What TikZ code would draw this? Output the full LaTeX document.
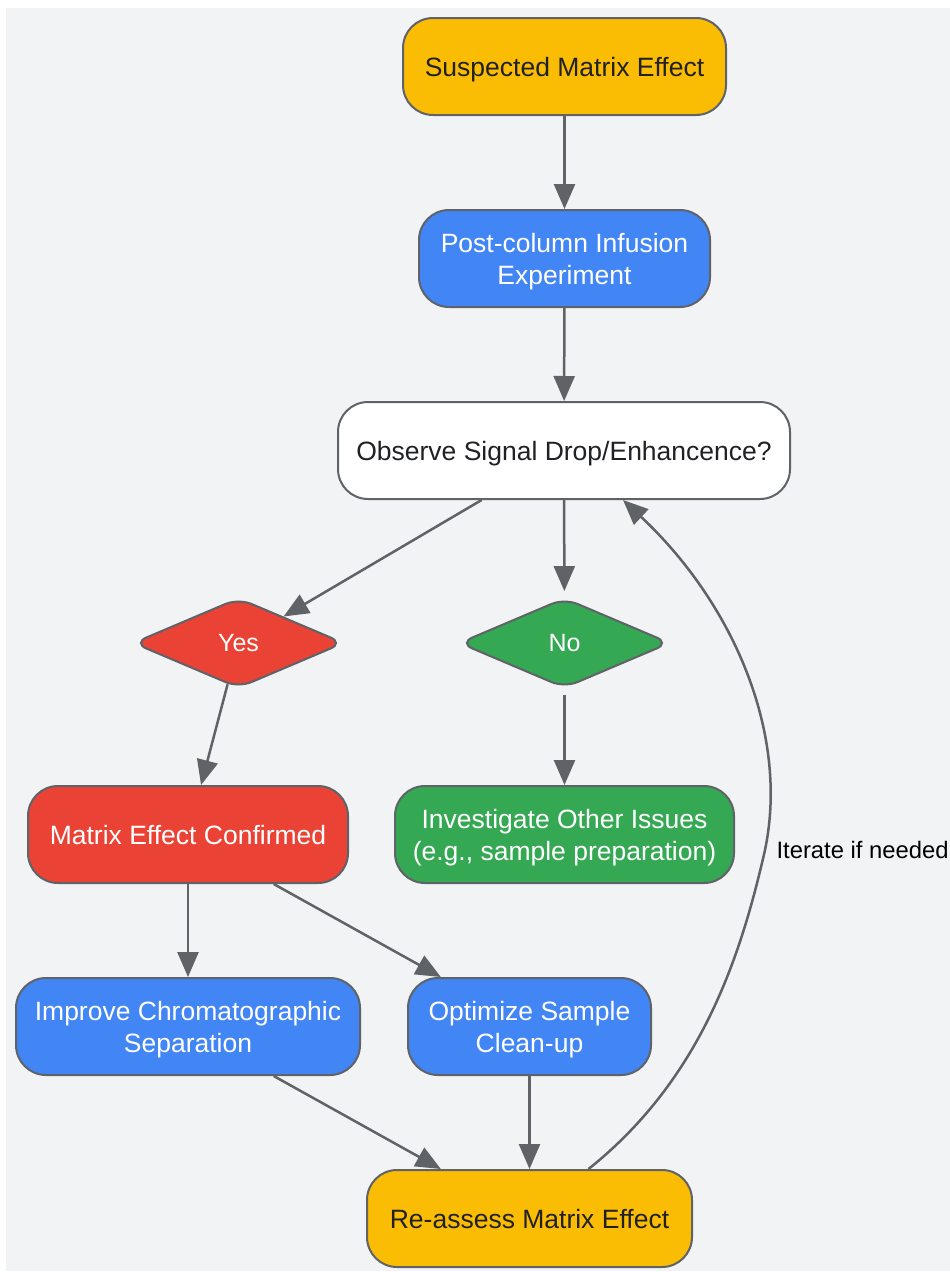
\documentclass[tikz,border=0pt]{standalone}
\usepackage{fontspec}
\setmainfont{Liberation Sans}
\usetikzlibrary{shapes.geometric,arrows.meta}

\definecolor{bg}{HTML}{F1F3F4}
\definecolor{edge}{HTML}{5F6368}
\definecolor{gyellow}{HTML}{FBBC04}
\definecolor{gblue}{HTML}{4285F4}
\definecolor{gred}{HTML}{EA4335}
\definecolor{ggreen}{HTML}{34A853}
\definecolor{ink}{HTML}{202124}

\newcommand{\lift}{\rule[-5.6pt]{0pt}{31.1pt}}

\tikzset{
    box/.style={draw=edge, line width=2pt, rounded corners=30pt, minimum height=97pt,
        align=center, inner sep=0pt, font=\fontsize{26.5}{32}\selectfont},
    choice/.style={draw=edge, line width=2pt, diamond, rounded corners=14pt,
        minimum width=211pt, minimum height=90pt, inner sep=0pt,
        font=\fontsize{25}{30}\selectfont, text=white},
    >={Triangle[length=25pt,width=21pt]}
}

\begin{document}
\begin{tikzpicture}[x=1pt, y=-1pt, line width=2.5pt, draw=edge, color=edge]
    \useasboundingbox (0,0) rectangle (950,1272);
    \fill[bg] (6,8) rectangle (950,1271);

    \node[box, fill=gyellow, text=ink, minimum width=323pt] (suspected) at (564.5,66.5) {\lift Suspected Matrix Effect};
    \node[box, fill=gblue, text=white, minimum width=291pt] (infusion) at (564.5,258.5) {\lift Post-column Infusion\\Experiment};
    \node[box, fill=white, text=ink, minimum width=452pt] (observe) at (564,450.5) {\lift Observe Signal Drop/Enhancence?};
    \node[choice, fill=gred] (yes) at (238.5,643) {Yes};
    \node[choice, fill=ggreen] (no) at (564.5,643) {No};
    \node[box, fill=gred, text=white, minimum width=320pt] (confirmed) at (188,834.5) {\lift Matrix Effect Confirmed};
    \node[box, fill=ggreen, text=white, minimum width=339pt] (other) at (564.5,834.5) {\lift Investigate Other Issues\\(e.g., sample preparation)};
    \node[box, fill=gblue, text=white, minimum width=344pt] (separation) at (188,1026.5) {\lift Improve Chromatographic\\Separation};
    \node[box, fill=gblue, text=white, minimum width=243pt] (cleanup) at (529.5,1026.5) {\lift Optimize Sample\\Clean-up};
    \node[box, fill=gyellow, text=ink, minimum width=325pt] (reassess) at (529.5,1218.5) {\lift Re-assess Matrix Effect};

    \draw[->] (suspected) -- (infusion);
    \draw[->] (infusion) -- (observe);
    \draw[->] (observe.211) -- (yes);
    \draw[->, shorten >=6pt] (observe) -- (no);
    \draw[->] (yes) -- (confirmed);
    \draw[->, shorten <=6pt] (no) -- (other);
    \draw[->] (confirmed) -- (separation);
    \draw[->] (confirmed.-30) -- (cleanup);
    \draw[->] (separation.-30) -- (reassess);
    \draw[->] (cleanup) -- (reassess);
    \draw[->] (reassess.40) .. controls (700,1080) and (740,960) .. (765,850)
        node[right=7pt, text=black, font=\fontsize{23.8}{28}\selectfont] {Iterate if needed}
        .. controls (790,730) and (730,600) .. (observe.-40);
\end{tikzpicture}
\end{document}
